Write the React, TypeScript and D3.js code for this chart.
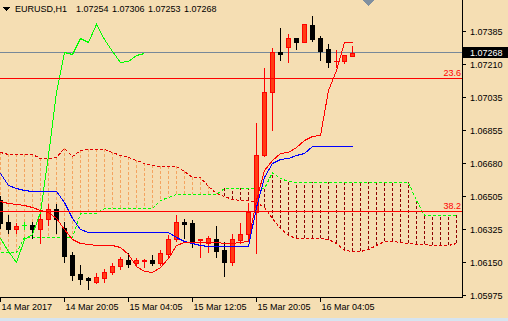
import React from 'react';
import * as d3 from 'd3';

// ---- candles (EURUSD H1) ----
const opens = [1.06483, 1.06365, 1.06328, 1.06349, 1.06349, 1.06328, 1.06381, 1.06434, 1.06333, 1.06189, 1.06088, 1.06066, 1.06045, 1.06066, 1.06098, 1.06130, 1.06162, 1.06146, 1.06157, 1.06162, 1.06146, 1.06194, 1.06274, 1.06365, 1.06360, 1.06269, 1.06253, 1.06274, 1.06216, 1.06152, 1.06269, 1.06301, 1.06418, 1.06723, 1.07059, 1.07273, 1.07300, 1.07348, 1.07326, 1.07417, 1.07348, 1.07289, 1.07223, 1.07225, 1.07254];
const highs = [1.06504, 1.06402, 1.06360, 1.06365, 1.06365, 1.06413, 1.06461, 1.06461, 1.06365, 1.06205, 1.06136, 1.06071, 1.06093, 1.06114, 1.06146, 1.06178, 1.06200, 1.06173, 1.06168, 1.06189, 1.06216, 1.06296, 1.06402, 1.06381, 1.06376, 1.06276, 1.06290, 1.06344, 1.06258, 1.06301, 1.06360, 1.06467, 1.06894, 1.07187, 1.07294, 1.07401, 1.07369, 1.07348, 1.07422, 1.07465, 1.07358, 1.07316, 1.07284, 1.07257, 1.07306];
const lows = [1.06333, 1.06306, 1.06306, 1.06328, 1.06280, 1.06253, 1.06349, 1.06306, 1.06152, 1.06055, 1.06034, 1.06007, 1.06039, 1.06045, 1.06088, 1.06114, 1.06125, 1.06130, 1.06125, 1.06136, 1.06136, 1.06178, 1.06264, 1.06280, 1.06232, 1.06178, 1.06205, 1.06178, 1.06077, 1.06136, 1.06253, 1.06280, 1.06200, 1.06718, 1.06856, 1.07230, 1.07219, 1.07289, 1.07326, 1.07332, 1.07230, 1.07193, 1.07193, 1.07214, 1.07253];
const closes = [1.06360, 1.06328, 1.06344, 1.06349, 1.06328, 1.06381, 1.06434, 1.06381, 1.06184, 1.06082, 1.06061, 1.06055, 1.06071, 1.06098, 1.06130, 1.06168, 1.06141, 1.06162, 1.06162, 1.06146, 1.06200, 1.06274, 1.06365, 1.06354, 1.06258, 1.06274, 1.06280, 1.06210, 1.06152, 1.06274, 1.06301, 1.06418, 1.06723, 1.07059, 1.07273, 1.07262, 1.07348, 1.07326, 1.07422, 1.07342, 1.07278, 1.07219, 1.07226, 1.07257, 1.07268];

// ---- Ichimoku ----
const tenkan = [1.06477, 1.06467, 1.06461, 1.06456, 1.06445, 1.06429, 1.06418, 1.06386, 1.06328, 1.06274, 1.06253, 1.06248, 1.06242, 1.06242, 1.06242, 1.06232, 1.06194, 1.06130, 1.06103, 1.06098, 1.06125, 1.06173, 1.06242, 1.06258, 1.06258, 1.06258, 1.06258, 1.06258, 1.06253, 1.06253, 1.06258, 1.06264, 1.06483, 1.06643, 1.06696, 1.06734, 1.06739, 1.06766, 1.06803, 1.06824, 1.06830, 1.07070, 1.07177, 1.07326, 1.07326];
const kijun = [1.06627, 1.06563, 1.06547, 1.06536, 1.06531, 1.06531, 1.06531, 1.06531, 1.06472, 1.06386, 1.06328, 1.06312, 1.06312, 1.06312, 1.06312, 1.06312, 1.06312, 1.06312, 1.06312, 1.06312, 1.06312, 1.06312, 1.06285, 1.06264, 1.06253, 1.06242, 1.06237, 1.06237, 1.06237, 1.06237, 1.06237, 1.06237, 1.06445, 1.06605, 1.06680, 1.06702, 1.06707, 1.06723, 1.06734, 1.06771, 1.06771, 1.06771, 1.06771, 1.06771, 1.06771];
const chikou = [1.06280, 1.06210, 1.06152, 1.06274, 1.06301, 1.06418, 1.06723, 1.07059, 1.07273, 1.07262, 1.07348, 1.07326, 1.07422, 1.07342, 1.07278, 1.07219, 1.07226, 1.07257, 1.07268];
const senkouA = [1.06739, 1.06728, 1.06728, 1.06728, 1.06728, 1.06707, 1.06707, 1.06712, 1.06760, 1.06718, 1.06750, 1.06755, 1.06755, 1.06755, 1.06739, 1.06723, 1.06712, 1.06696, 1.06680, 1.06669, 1.06664, 1.06664, 1.06664, 1.06637, 1.06605, 1.06605, 1.06557, 1.06520, 1.06504, 1.06488, 1.06483, 1.06483, 1.06472, 1.06445, 1.06386, 1.06333, 1.06296, 1.06280, 1.06280, 1.06280, 1.06280, 1.06274, 1.06253, 1.06216, 1.06210, 1.06210, 1.06221, 1.06242, 1.06264, 1.06264, 1.06258, 1.06253, 1.06248, 1.06248, 1.06242, 1.06242, 1.06242, 1.06253];
const senkouB = [1.06205, 1.06205, 1.06205, 1.06285, 1.06285, 1.06285, 1.06285, 1.06285, 1.06285, 1.06285, 1.06413, 1.06413, 1.06413, 1.06440, 1.06440, 1.06440, 1.06440, 1.06440, 1.06440, 1.06440, 1.06483, 1.06499, 1.06515, 1.06515, 1.06515, 1.06515, 1.06515, 1.06515, 1.06547, 1.06547, 1.06547, 1.06547, 1.06547, 1.06547, 1.06632, 1.06600, 1.06584, 1.06579, 1.06579, 1.06579, 1.06579, 1.06579, 1.06579, 1.06579, 1.06579, 1.06579, 1.06579, 1.06579, 1.06579, 1.06579, 1.06579, 1.06579, 1.06483, 1.06402, 1.06402, 1.06402, 1.06402, 1.06402];

// ---- axes / annotations ----
const priceTicks = [1.07385, 1.07210, 1.07035, 1.06855, 1.06680, 1.06505, 1.06325, 1.06150, 1.05975];
const timeLabels = ['14 Mar 2017', '14 Mar 20:05', '15 Mar 04:05', '15 Mar 12:05', '15 Mar 20:05', '16 Mar 04:05'];
const timeLabelBars = [0, 8, 16, 24, 32, 40];
const fibLabels = ['23.6', '38.2'];
const fibPrices = [1.07134, 1.06424];
const symbolLabel = 'EURUSD,H1';
const headerValues = [1.07254, 1.07306, 1.07253, 1.07268];
const bidPrice = 1.07268;

const FONT = '"Liberation Sans", Arial, sans-serif';

export default function App() {
  const W = 508, H = 321;
  const plotR = 462, plotB = 297;
  const y = d3.scaleLinear().domain([1.05975, 1.07385]).range([295, 31]);
  const x = d3.scaleLinear().domain([0, 1]).range([0, 8]);
  const py = (p: number) => Math.round(y(p));
  const cx = (i: number) => x(i) + 0.5;

  const line = d3.line<number>().x((_, i) => cx(i)).y((d) => py(d) + 0.5);

  const bullFill = '#FF3C14';
  const bullStroke = '#FF0000';

  const candles = opens.map((o, i) => {
    const c = closes[i];
    const top = py(Math.max(o, c));
    const bot = py(Math.min(o, c));
    const hi = py(highs[i]);
    const lo = py(lows[i]);
    const X = x(i);
    if (o === c) {
      return (
        <g key={i}>
          <line x1={X + 0.5} x2={X + 0.5} y1={hi} y2={lo + 1} stroke="#00FF00" />
          <line x1={X - 2} x2={X + 3} y1={top + 0.5} y2={top + 0.5} stroke="#00FF00" />
        </g>
      );
    }
    const bull = c > o;
    const col = bull ? bullStroke : '#000000';
    return (
      <g key={i}>
        <line x1={X + 0.5} x2={X + 0.5} y1={hi} y2={lo + 1} stroke={col} />
        <rect x={X - 2} y={top} width={5} height={bot - top + 1} fill={col} />
        {bull && bot - top >= 2 && (
          <rect x={X - 1} y={top + 1} width={3} height={bot - top - 1} fill={bullFill} />
        )}
      </g>
    );
  });

  const hatch = senkouA.map((a, i) => {
    const b = senkouB[i];
    const X = cx(i);
    return (
      <line
        key={i}
        x1={X}
        x2={X}
        y1={py(a)}
        y2={py(b)}
        stroke={a >= b ? '#F4A460' : '#8B0000'}
        strokeDasharray="3,2"
      />
    );
  });

  return (
    <div style={{ position: 'absolute', left: 0, top: 0 }}>
      <svg width={W} height={H} style={{ display: 'block' }} shapeRendering="crispEdges">
        <defs>
          <clipPath id="plot">
            <rect x={0} y={0} width={plotR} height={plotB} />
          </clipPath>
        </defs>
        <rect x={0} y={0} width={W} height={H} fill="#F5DEB3" />
        <rect x={0} y={318} width={W} height={3} fill="#D6E4F0" />

        <g clipPath="url(#plot)">
          {/* bid line */}
          <line x1={0} x2={plotR} y1={py(bidPrice) - 0.5} y2={py(bidPrice) - 0.5} stroke="#778899" />
          {hatch}
          <path d={line(senkouA) || ''} fill="none" stroke="#E00000" strokeDasharray="3,2" />
          <path d={line(senkouB) || ''} fill="none" stroke="#00FF00" strokeDasharray="3,2" />
          {candles}
          <path d={line(chikou) || ''} fill="none" stroke="#00FF00" />
          <path d={line(kijun) || ''} fill="none" stroke="#0000FF" />
          <path d={line(tenkan) || ''} fill="none" stroke="#FF0000" />
          {fibPrices.map((p, i) => (
            <g key={i}>
              <line x1={0} x2={plotR} y1={py(p) + 0.5} y2={py(p) + 0.5} stroke="#FF0000" />
              <text x={461} y={py(p) - 2} textAnchor="end" fontFamily={FONT} fontSize={9} fill="#FF0000">
                {fibLabels[i]}
              </text>
            </g>
          ))}
        </g>

        {/* axes */}
        <line x1={plotR + 0.5} x2={plotR + 0.5} y1={0} y2={plotB + 1} stroke="#000" />
        <line x1={0} x2={plotR + 1} y1={plotB + 0.5} y2={plotB + 0.5} stroke="#000" />
        {priceTicks.map((p, i) => (
          <g key={i}>
            <line x1={plotR} x2={plotR + 4} y1={py(p) + 0.5} y2={py(p) + 0.5} stroke="#000" />
            <text x={470} y={py(p) + 3.5} fontFamily={FONT} fontSize={9} fill="#000">
              {p.toFixed(5)}
            </text>
          </g>
        ))}
        {/* bid label */}
        <rect x={463} y={py(bidPrice) - 6} width={45} height={11} fill="#000" />
        <text x={470} y={py(bidPrice) + 3} fontFamily={FONT} fontSize={9} fill="#FFF">
          {bidPrice.toFixed(5)}
        </text>

        {timeLabelBars.map((b, i) => (
          <g key={i}>
            <line x1={cx(b)} x2={cx(b)} y1={plotB} y2={plotB + 5} stroke="#000" />
            <text x={x(b) + 1.5} y={310} fontFamily={FONT} fontSize={9} fill="#000">
              {timeLabels[i]}
            </text>
          </g>
        ))}

        {/* header */}
        <path d="M3,7 L10,7 L6.5,11 Z" fill="#000" />
        <text x={15} y={12} fontFamily={FONT} fontSize={9} fill="#000">{symbolLabel}</text>
        {headerValues.map((v, i) => (
          <text key={i} x={76 + i * 36} y={12} fontFamily={FONT} fontSize={9} fill="#000">
            {v.toFixed(5)}
          </text>
        ))}
        {/* chart shift marker */}
        <path d="M362,0 L375,0 L368.5,6 Z" fill="#8090A0" />
      </svg>
    </div>
  );
}
